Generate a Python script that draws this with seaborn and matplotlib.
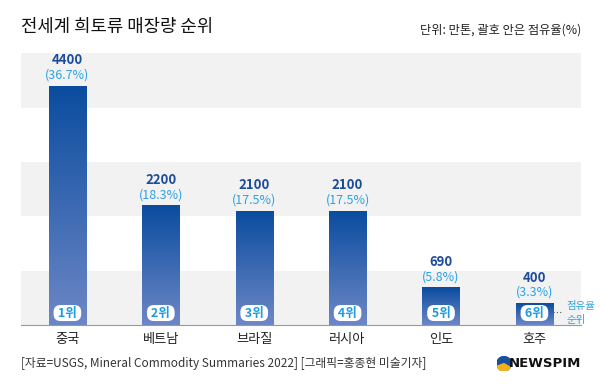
import numpy as np
import pandas as pd
import matplotlib
matplotlib.use("Agg")
import matplotlib.pyplot as plt
import seaborn as sns
from matplotlib.patches import Circle, Wedge

countries = ["중국", "베트남", "브라질", "러시아", "인도", "호주"]
reserves = [4400, 2200, 2100, 2100, 690, 400]
shares = ["36.7%", "18.3%", "17.5%", "17.5%", "5.8%", "3.3%"]
ranks = ["1위", "2위", "3위", "4위", "5위", "6위"]

sns.set_theme(style="white")
plt.rcParams['font.family'] = ['Noto Sans CJK KR', 'DejaVu Sans']

fig = plt.figure(figsize=(6, 3.9), dpi=100)
ax = fig.add_axes([0.0345, 0.1667, 0.934, 0.697])

df = pd.DataFrame({"country": countries, "reserve": reserves})
sns.barplot(data=df, x="country", y="reserve", ax=ax, width=0.4,
            color="#2a5ca8", saturation=1, zorder=3)
bars = list(ax.containers[0])

ax.set_xlim(-0.5, 5.5)
ax.set_ylim(0, 5000)
for lo in (0, 2000, 4000):
    ax.axhspan(lo, lo + 1000, color="#f2f2f2", zorder=0, lw=0)

dark = np.array(matplotlib.colors.to_rgb("#0a4c9e"))
light = np.array(matplotlib.colors.to_rgb("#6d87c6"))
t = np.linspace(0, 1, 256)[:, None]
grad = (dark[None, :] * (1 - t) + light[None, :] * t)[:, None, :]

for p in bars:
    x0, w, h = p.get_x(), p.get_width(), p.get_height()
    p.set_facecolor("none")
    p.set_edgecolor("none")
    im = ax.imshow(grad, extent=[x0, x0 + w, 0, h], aspect="auto", zorder=3,
                   origin="upper")
    im.set_clip_path(p)

for i, (v, s, r) in enumerate(zip(reserves, shares, ranks)):
    ax.annotate(str(v), (i, v), xytext=(0, 18.5), textcoords="offset points",
                ha="center", va="center", fontsize=9.5, fontweight="bold",
                color="#1b4b9b", zorder=5)
    ax.annotate(f"({s})", (i, v), xytext=(0, 7.8), textcoords="offset points",
                ha="center", va="center", fontsize=9, color="#2ba3e3", zorder=5)
    ax.annotate(r, (i, 0), xytext=(0, 8.6), textcoords="offset points",
                ha="center", va="center", fontsize=9, fontweight="bold",
                color="#1f9be0", zorder=6,
                bbox=dict(boxstyle="round,pad=0.12,rounding_size=0.55",
                          fc="white", ec="none"),
                ).set_text(f" {r} ")

ax.plot([5.2, 5.3], [230, 230], ls=(0, (1, 2)), color="#555555", lw=0.8,
        zorder=5, clip_on=False)
ax.text(5.34, 350, "점유율", fontsize=7.5, color="#2ba3e3", va="center", ha="left")
ax.text(5.34, 95, "순위", fontsize=7.5, color="#2ba3e3", va="center", ha="left")

ax.set_xticks(range(len(countries)))
ax.set_xticklabels(countries, fontsize=9.5, color="#222222")
ax.tick_params(axis="x", length=0, pad=6)
ax.set_xticks(np.arange(-0.5, 6, 1), minor=True)
ax.tick_params(axis="x", which="minor", direction="in", length=5, width=0.8,
               color="#aaaaaa")
ax.set_yticks([])
ax.set_xlabel("")
ax.set_ylabel("")
for side in ("top", "right", "left"):
    ax.spines[side].set_visible(False)
ax.spines["bottom"].set_color("#999999")
ax.spines["bottom"].set_linewidth(0.8)

fig.text(0.0345, 0.93, "전세계 희토류 매장량 순위", fontsize=12.8,
         fontweight="medium", color="#111111", va="center", ha="left")
fig.text(0.968, 0.922, "단위: 만톤, 괄호 안은 점유율(%)", fontsize=8.8,
         color="#222222", va="center", ha="right")
fig.text(0.0345, 0.068,
         "[자료=USGS, Mineral Commodity Summaries 2022] [그래픽=홍종현 미술기자]",
         fontsize=8.5, color="#333333", va="center", ha="left")

lax = fig.add_axes([0.828, 0.049, 0.024, 0.037])
lax.set_xlim(-1, 1); lax.set_ylim(-1, 1); lax.set_aspect("equal"); lax.axis("off")
lax.add_patch(Circle((0, 0), 1, color="#1a4f9c"))
lax.add_patch(Wedge((0, 0), 1, 200, 330, color="#f3b21a"))
fig.text(0.969, 0.068, "NEWSPIM", fontsize=9.5, fontweight="bold",
         color="#111111", va="center", ha="right", family="DejaVu Sans")

fig.savefig("out.png", dpi=100)
